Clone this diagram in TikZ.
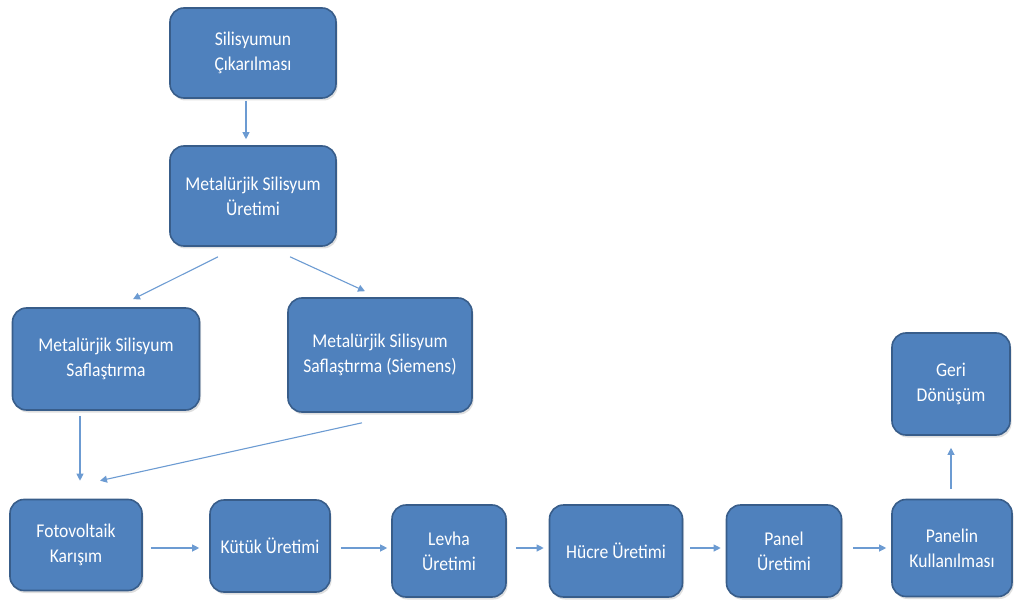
\documentclass[tikz,border=0pt]{standalone}
\usepackage{fontspec}
\setmainfont[FakeStretch=0.9]{Carlito}
\usetikzlibrary{positioning}
\usetikzlibrary{shapes.geometric, arrows.meta, shadows}

\definecolor{boxblue}{HTML}{4F81BD}
\definecolor{boxedge}{HTML}{385D8A}
\definecolor{arrowblue}{HTML}{6C9BD2}

\begin{document}
\begin{tikzpicture}[x=1pt, y=-1pt,
  adim/.style={rectangle, rounded corners=14pt, draw=boxedge, line width=1.6pt,
    fill=boxblue, text=white, align=center, inner sep=2pt,
    font=\fontsize{19.5}{25}\selectfont,
    drop shadow={opacity=0.25, shadow xshift=1.5pt, shadow yshift=-2.5pt}},
  ok/.style={draw=arrowblue, line width=1.1pt, -{Triangle[length=7pt, width=7pt]}}]

\useasboundingbox (0,0) rectangle (1024,601);

\node[adim, minimum width=166pt, minimum height=90pt] (cik) at (253,53) {Silisyumun\\Çıkarılması};
\node[adim, minimum width=166pt, minimum height=100pt] (met) at (253,196) {Metalürjik Silisyum\\Üretimi};
\node[adim, minimum width=187pt, minimum height=102pt] (saf) at (106,359) {Metalürjik Silisyum\\Saflaştırma};
\node[adim, minimum width=184pt, minimum height=114pt] (sie) at (380,355) {Metalürjik Silisyum\\Saflaştırma (Siemens)};

\node[adim, minimum width=132pt, minimum height=91pt] (foto) at (76,545) {Fotovoltaik\\Karışım};
\node[adim, minimum width=120pt, minimum height=92pt] (kutuk) at (270,546) {Kütük Üretimi};
\node[adim, minimum width=114pt, minimum height=92pt] (levha) at (449,551) {Levha\\Üretimi};
\node[adim, minimum width=133pt, minimum height=92pt] (hucre) at (616,551) {Hücre Üretimi};
\node[adim, minimum width=115pt, minimum height=92pt] (panel) at (784,551) {Panel\\Üretimi};
\node[adim, minimum width=120pt, minimum height=97pt] (kull) at (952,548) {Panelin\\Kullanılması};
\node[adim, minimum width=118pt, minimum height=102pt] (geri) at (951,384) {Geri\\Dönüşüm};

% dikey ve capraz oklar
\draw[ok] ([xshift=-7pt, yshift=-2pt]cik.south) -- ([xshift=-7pt, yshift=6pt]met.north);
\draw[ok] ([xshift=-35pt, yshift=-10pt]met.south) -- ([xshift=27pt, yshift=8pt]saf.north);
\draw[ok] ([xshift=37pt, yshift=-10pt]met.south) -- ([xshift=-15pt, yshift=6pt]sie.north);
\draw[ok] ([xshift=-26pt, yshift=-5pt]saf.south) -- ([xshift=4pt, yshift=18pt]foto.north);
\draw[ok] ([xshift=-18pt, yshift=-10pt]sie.south) -- ([xshift=24pt, yshift=18pt]foto.north);

% alt sira
\draw[ok] ([xshift=8pt, yshift=-3pt]foto.east) -- ([xshift=-10pt, yshift=-2pt]kutuk.west);
\draw[ok] ([xshift=10pt, yshift=-2pt]kutuk.east) -- ([xshift=-4pt, yshift=3pt]levha.west);
\draw[ok] ([xshift=9pt, yshift=3pt]levha.east) -- ([xshift=-5pt, yshift=3pt]hucre.west);
\draw[ok] ([xshift=7pt, yshift=3pt]hucre.east) -- ([xshift=-5pt, yshift=3pt]panel.west);
\draw[ok] ([xshift=11pt, yshift=3pt]panel.east) -- ([xshift=-5pt, yshift=0pt]kull.west);
\draw[ok] ([xshift=-1pt, yshift=10pt]kull.north) -- ([yshift=-12pt]geri.south);

\end{tikzpicture}
\end{document}
